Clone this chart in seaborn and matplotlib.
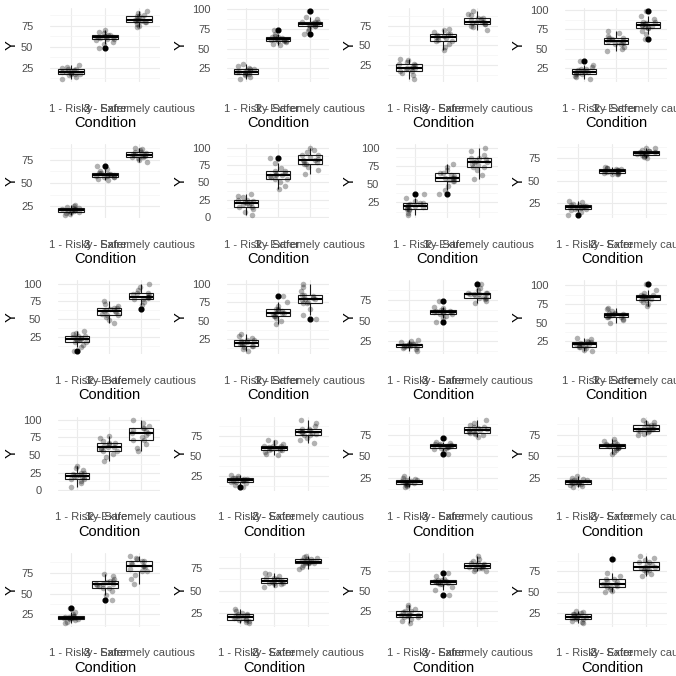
import numpy as np
import pandas as pd
import matplotlib
matplotlib.use("Agg")
import matplotlib.pyplot as plt
import seaborn as sns
from matplotlib.ticker import MultipleLocator

conditions = ["1 - Risky", "2 - Safer", "3 - Extremely cautious"]
x_title = "Condition"
y_title = "Y"

# ---- values per panel (row-major, 5 rows x 4 columns) ----
p01_risky = [12, 14, 16, 17, 17, 18, 19, 20, 20, 21, 22, 23, 23, 25, 26, 28]
p01_safer = [49, 53, 56, 58, 59, 59, 60, 61, 61, 62, 63, 64, 64, 66, 68, 70]
p01_cautious = [73, 75, 77, 79, 79, 80, 81, 82, 82, 83, 84, 86, 86, 88, 90, 92]

p02_risky = [12, 14, 16, 18, 18, 19, 20, 21, 21, 22, 23, 24, 24, 26, 28, 30]
p02_safer = [55, 56, 58, 59, 59, 60, 61, 61, 62, 62, 63, 64, 64, 66, 68, 74]
p02_cautious = [68, 72, 75, 78, 78, 79, 80, 81, 81, 82, 83, 84, 84, 87, 90, 97]

p03_risky = [8, 12, 15, 18, 18, 20, 21, 22, 22, 23, 25, 26, 26, 29, 31, 33]
p03_safer = [44, 48, 52, 55, 55, 57, 59, 60, 60, 62, 63, 65, 65, 67, 69, 71]
p03_cautious = [70, 73, 75, 77, 77, 78, 79, 80, 80, 82, 83, 85, 85, 88, 90, 93]

p04_risky = [12, 14, 16, 18, 18, 19, 20, 21, 21, 22, 23, 24, 24, 27, 30, 35]
p04_safer = [47, 50, 53, 56, 56, 58, 59, 60, 60, 61, 63, 64, 64, 67, 70, 73]
p04_cautious = [63, 69, 73, 77, 77, 78, 79, 80, 80, 82, 83, 85, 85, 88, 92, 98]

p05_risky = [16, 17, 18, 19, 19, 20, 20, 21, 21, 22, 22, 23, 23, 24, 25, 26]
p05_safer = [53, 54, 56, 57, 57, 58, 58, 59, 59, 60, 60, 61, 61, 63, 65, 68]
p05_cautious = [73, 75, 77, 78, 78, 79, 79, 80, 80, 81, 82, 83, 83, 85, 86, 88]

p06_risky = [3, 7, 11, 15, 15, 17, 19, 20, 20, 22, 23, 25, 25, 28, 30, 33]
p06_safer = [40, 45, 50, 55, 55, 57, 59, 60, 60, 62, 64, 66, 66, 70, 78, 85]
p06_cautious = [62, 67, 72, 77, 77, 79, 81, 82, 82, 84, 86, 89, 89, 93, 97, 100]

p07_risky = [8, 11, 14, 16, 16, 18, 19, 20, 20, 21, 23, 24, 24, 27, 31, 37]
p07_safer = [36, 42, 48, 54, 54, 56, 58, 59, 59, 61, 63, 65, 65, 69, 74, 78]
p07_cautious = [57, 63, 69, 74, 74, 76, 78, 80, 80, 82, 84, 86, 86, 90, 95, 100]

p08_risky = [12, 15, 17, 19, 19, 20, 20, 21, 21, 22, 22, 23, 23, 24, 26, 27]
p08_safer = [57, 58, 58, 59, 59, 60, 60, 61, 61, 62, 62, 63, 63, 64, 64, 65]
p08_cautious = [75, 76, 78, 79, 79, 80, 80, 81, 81, 82, 82, 83, 83, 84, 86, 87]

p09_risky = [5, 10, 14, 18, 18, 20, 21, 22, 22, 23, 25, 26, 26, 29, 31, 34]
p09_safer = [45, 49, 53, 56, 56, 58, 60, 61, 61, 63, 64, 66, 66, 69, 72, 76]
p09_cautious = [64, 70, 74, 78, 78, 80, 81, 82, 82, 84, 85, 87, 87, 91, 95, 100]

p10_risky = [9, 12, 14, 16, 16, 18, 19, 20, 20, 21, 23, 24, 24, 27, 29, 32]
p10_safer = [45, 50, 54, 57, 57, 59, 60, 61, 61, 63, 64, 66, 66, 70, 75, 84]
p10_cautious = [53, 58, 66, 74, 74, 76, 78, 79, 79, 81, 83, 85, 85, 90, 95, 100]

p11_risky = [13, 15, 17, 18, 18, 19, 19, 20, 20, 21, 21, 22, 22, 24, 25, 27]
p11_safer = [48, 53, 56, 58, 58, 59, 60, 61, 61, 62, 62, 63, 63, 65, 67, 74]
p11_cautious = [72, 74, 76, 78, 78, 79, 81, 82, 82, 83, 84, 84, 84, 87, 90, 95]

p12_risky = [12, 14, 16, 18, 18, 19, 20, 21, 21, 22, 23, 24, 24, 26, 28, 30]
p12_safer = [50, 53, 55, 57, 57, 58, 59, 60, 60, 61, 62, 63, 63, 66, 68, 70]
p12_cautious = [72, 75, 78, 80, 80, 82, 83, 84, 84, 85, 86, 87, 87, 90, 93, 102]

p13_risky = [4, 10, 13, 16, 16, 18, 19, 20, 20, 21, 23, 24, 24, 28, 31, 35]
p13_safer = [42, 47, 52, 56, 56, 58, 60, 61, 61, 63, 65, 67, 67, 70, 74, 77]
p13_cautious = [55, 60, 66, 72, 72, 76, 79, 82, 82, 84, 86, 88, 88, 92, 96, 100]

p14_risky = [11, 14, 16, 18, 18, 19, 19, 20, 20, 21, 21, 22, 22, 23, 25, 26]
p14_safer = [51, 53, 55, 57, 57, 58, 59, 60, 60, 61, 62, 63, 63, 65, 67, 70]
p14_cautious = [66, 70, 73, 76, 76, 78, 79, 80, 80, 81, 83, 84, 84, 87, 91, 95]

p15_risky = [14, 15, 17, 18, 18, 19, 19, 20, 20, 21, 21, 22, 22, 24, 25, 27]
p15_safer = [52, 56, 58, 60, 60, 61, 61, 62, 62, 63, 63, 64, 64, 65, 67, 71]
p15_cautious = [72, 74, 76, 77, 77, 78, 79, 80, 80, 81, 83, 84, 84, 86, 89, 92]

p16_risky = [14, 15, 17, 18, 18, 19, 19, 20, 20, 21, 21, 22, 22, 24, 25, 27]
p16_safer = [52, 55, 57, 59, 59, 60, 61, 62, 62, 63, 63, 64, 64, 66, 68, 70]
p16_cautious = [74, 76, 78, 79, 79, 80, 81, 82, 82, 83, 85, 86, 86, 88, 90, 92]

p17_risky = [14, 16, 18, 19, 19, 20, 20, 21, 21, 22, 22, 23, 23, 25, 28, 32]
p17_safer = [42, 48, 53, 57, 57, 59, 60, 61, 61, 62, 64, 65, 65, 68, 71, 74]
p17_cautious = [62, 67, 72, 77, 77, 80, 82, 83, 83, 85, 87, 89, 89, 91, 93, 95]

p18_risky = [14, 16, 17, 18, 18, 19, 20, 21, 21, 22, 23, 24, 24, 26, 28, 30]
p18_safer = [54, 56, 57, 58, 58, 59, 60, 61, 61, 62, 63, 64, 64, 66, 68, 70]
p18_cautious = [74, 76, 78, 80, 80, 81, 81, 82, 82, 83, 84, 85, 85, 86, 87, 88]

p19_risky = [10, 13, 15, 18, 18, 19, 20, 21, 21, 22, 24, 25, 25, 28, 30, 33]
p19_safer = [46, 52, 56, 59, 59, 60, 61, 62, 62, 63, 63, 64, 64, 66, 69, 73]
p19_cautious = [75, 76, 78, 79, 79, 80, 81, 82, 82, 83, 84, 85, 85, 88, 91, 94]

p20_risky = [13, 15, 16, 18, 18, 19, 20, 21, 21, 22, 23, 24, 24, 25, 27, 28]
p20_safer = [50, 52, 54, 56, 56, 58, 59, 60, 60, 62, 64, 66, 66, 69, 73, 90]
p20_cautious = [70, 72, 74, 76, 76, 78, 79, 80, 80, 82, 84, 86, 86, 89, 91, 93]

panels = [
    (p01_risky, p01_safer, p01_cautious), (p02_risky, p02_safer, p02_cautious),
    (p03_risky, p03_safer, p03_cautious), (p04_risky, p04_safer, p04_cautious),
    (p05_risky, p05_safer, p05_cautious), (p06_risky, p06_safer, p06_cautious),
    (p07_risky, p07_safer, p07_cautious), (p08_risky, p08_safer, p08_cautious),
    (p09_risky, p09_safer, p09_cautious), (p10_risky, p10_safer, p10_cautious),
    (p11_risky, p11_safer, p11_cautious), (p12_risky, p12_safer, p12_cautious),
    (p13_risky, p13_safer, p13_cautious), (p14_risky, p14_safer, p14_cautious),
    (p15_risky, p15_safer, p15_cautious), (p16_risky, p16_safer, p16_cautious),
    (p17_risky, p17_safer, p17_cautious), (p18_risky, p18_safer, p18_cautious),
    (p19_risky, p19_safer, p19_cautious), (p20_risky, p20_safer, p20_cautious),
]

sns.set_theme(style="white")
plt.rcParams['font.family'] = ['Liberation Sans', 'DejaVu Sans']

np.random.seed(7)
W = H = 676
fig = plt.figure(figsize=(W / 100, H / 100), dpi=100)
fig.patch.set_facecolor("white")

for i, groups in enumerate(panels):
    r, c = divmod(i, 4)
    yc = 122 + 136.2 * r
    ax = fig.add_axes([0, 0, 0.1, 0.1])
    cond_col = []
    vals = []
    for name, g in zip(conditions, groups):
        cond_col += [name] * len(g)
        vals += list(g)
    df = pd.DataFrame({"Condition": cond_col, "Y": vals})

    sns.boxplot(data=df, x="Condition", y="Y", order=conditions, ax=ax,
                color="white", linecolor="#1a1a1a", linewidth=0.8, width=0.76,
                showcaps=False,
                flierprops=dict(marker="o", markersize=3.4,
                                markerfacecolor="black", markeredgecolor="black"),
                medianprops=dict(linewidth=1.5, color="black"))
    sns.stripplot(data=df, x="Condition", y="Y", order=conditions, ax=ax,
                  color="black", alpha=0.3, size=4.0, jitter=0.28,
                  linewidth=0, zorder=3)

    ax.set_xlim(-0.6, 2.6)
    ax.margins(y=0.05)
    ax.autoscale(axis="y")
    lo, hi = ax.get_ylim()
    three_digit = hi >= 100
    left_off = 58 if three_digit else 50
    right_off = 160
    width_px = right_off - left_off
    ax.set_position([(169 * c + left_off) / W, 1 - (yc - 40) / H,
                     width_px / W, 74 / H])

    ax.yaxis.set_major_locator(MultipleLocator(25))
    ax.yaxis.set_minor_locator(MultipleLocator(12.5))
    ax.set_axisbelow(True)
    ax.grid(which="major", axis="both", color="#ebebeb", linewidth=0.8)
    ax.grid(which="minor", axis="y", color="#f4f4f4", linewidth=0.5)
    for s in ax.spines.values():
        s.set_visible(False)
    ax.tick_params(axis="both", which="both", length=0, labelsize=8,
                   labelcolor="#4d4d4d")
    ax.tick_params(axis="x", pad=15.5)
    ax.tick_params(axis="y", pad=12)
    ax.set_xlabel(x_title, fontsize=10.5, color="black")
    ax.set_ylabel(y_title, fontsize=10.5, color="black")
    ax.xaxis.set_label_coords(0.5, -0.46)
    ax.yaxis.set_label_coords((19 - left_off) / width_px, 0.5)

fig.savefig("out.png", dpi=100, facecolor="white")
